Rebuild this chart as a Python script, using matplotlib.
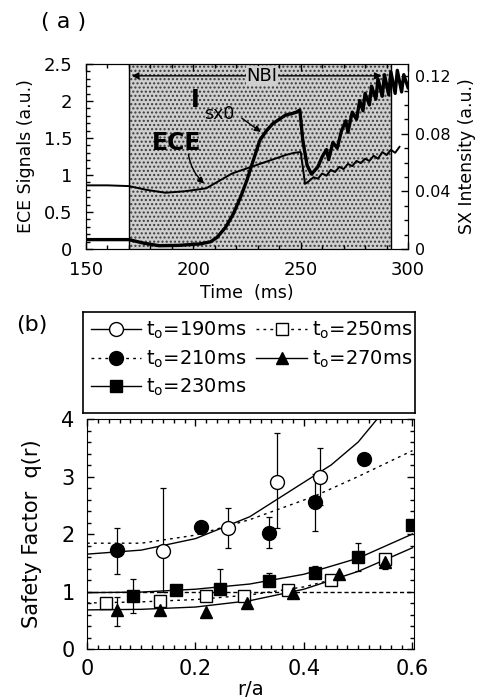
import matplotlib
matplotlib.use("Agg")
import matplotlib.pyplot as plt
from matplotlib.lines import Line2D
from matplotlib.ticker import MultipleLocator

plt.rcParams['font.family'] = ['DejaVu Sans']
plt.rcParams['mathtext.fontset'] = 'dejavusans'

# ---------------- Panel (a) data ----------------
ece_t = [150, 160, 170, 178, 187, 196, 206, 212, 218, 224, 231, 237, 243, 247, 250, 251, 252, 254,
         256, 258, 260, 262, 264, 266, 268, 270, 272, 274, 276, 278, 280, 282, 284, 286, 288, 290, 292, 294, 296]
ece_v = [0.86, 0.86, 0.85, 0.80, 0.76, 0.78, 0.82, 0.92, 1.02, 1.08, 1.15, 1.21, 1.27, 1.30, 1.31, 1.10, 0.88, 0.92,
         0.97, 0.95, 1.02, 0.99, 1.07, 1.04, 1.11, 1.08, 1.15, 1.12, 1.19, 1.16, 1.22, 1.19, 1.26, 1.22, 1.31, 1.27, 1.34, 1.30, 1.38]

sx_t = [150, 160, 170, 177, 184, 193, 203, 208, 211, 215, 218.5, 222, 225, 228, 231, 234, 237, 240, 243, 246, 248, 249.6,
        251, 253, 255, 258, 260, 262, 263, 265, 267, 269, 271, 272, 274, 276, 277.5, 279, 280, 282, 283, 285, 286, 288,
        289, 291, 292, 294, 295, 297, 298, 300]
sx_v = [0.0065, 0.0065, 0.0065, 0.004, 0.0023, 0.0025, 0.0035, 0.005, 0.008, 0.015, 0.024, 0.036, 0.048, 0.062, 0.0755,
        0.082, 0.087, 0.090, 0.093, 0.094, 0.095, 0.0965, 0.075, 0.058, 0.052, 0.057, 0.064, 0.069, 0.062, 0.074, 0.070,
        0.082, 0.089, 0.081, 0.095, 0.090, 0.103, 0.096, 0.108, 0.100, 0.113, 0.104, 0.118, 0.106, 0.121, 0.107, 0.123,
        0.108, 0.124, 0.109, 0.121, 0.112]

nbi_start, nbi_end = 170, 292

# ---------------- Panel (b) data ----------------
r190 = [0.14, 0.26, 0.35, 0.43]
q190 = [1.70, 2.10, 2.90, 3.00]
lo190 = [1.00, 1.75, 2.10, 2.50]
hi190 = [2.80, 2.45, 3.75, 3.50]

r210 = [0.055, 0.21, 0.335, 0.42, 0.51]
q210 = [1.72, 2.12, 2.02, 2.55, 3.30]
lo210 = [1.30, 2.12, 1.75, 2.05, 3.30]
hi210 = [2.10, 2.12, 2.30, 3.05, 3.30]

r230 = [0.085, 0.165, 0.245, 0.335, 0.42, 0.50, 0.60]
q230 = [0.93, 1.02, 1.05, 1.18, 1.33, 1.60, 2.15]
lo230 = [0.62, 1.02, 1.05, 1.18, 1.33, 1.35, 2.15]
hi230 = [1.22, 1.02, 1.40, 1.32, 1.45, 1.85, 2.25]

r250 = [0.035, 0.135, 0.22, 0.29, 0.37, 0.45, 0.55]
q250 = [0.80, 0.83, 0.92, 0.92, 1.02, 1.20, 1.57]

r270 = [0.055, 0.135, 0.22, 0.295, 0.38, 0.465, 0.55]
q270 = [0.68, 0.68, 0.65, 0.80, 0.97, 1.30, 1.52]
lo270 = [0.40, 0.68, 0.65, 0.80, 0.97, 1.30, 1.40]
hi270 = [0.90, 0.68, 0.65, 0.95, 0.97, 1.30, 1.52]

fit190_r = [0, 0.1, 0.2, 0.3, 0.4, 0.45, 0.5, 0.535]
fit190_q = [1.65, 1.72, 1.92, 2.30, 2.90, 3.20, 3.60, 4.00]
fit210_r = [0, 0.1, 0.2, 0.3, 0.35, 0.42, 0.5, 0.6]
fit210_q = [1.84, 1.84, 1.98, 2.25, 2.42, 2.66, 3.00, 3.45]
fit230_r = [0, 0.1, 0.2, 0.3, 0.4, 0.5, 0.6]
fit230_q = [0.98, 0.99, 1.04, 1.13, 1.30, 1.58, 2.00]
fit250_r = [0, 0.1, 0.2, 0.3, 0.4, 0.45]
fit250_q = [0.80, 0.82, 0.86, 0.94, 1.08, 1.20]
fit270_r = [0, 0.1, 0.2, 0.3, 0.4, 0.5, 0.6]
fit270_q = [0.68, 0.69, 0.73, 0.84, 1.04, 1.35, 1.76]
q1_r = [0, 0.6]
q1_q = [1.0, 1.0]

legend_labels = ['t$_\\mathregular{o}$=190ms', 't$_\\mathregular{o}$=210ms', 't$_\\mathregular{o}$=230ms',
                 't$_\\mathregular{o}$=250ms', 't$_\\mathregular{o}$=270ms']

fig = plt.figure(figsize=(4.86, 6.98), dpi=100)

# ================= Panel (a) =================
axa = fig.add_axes([0.177, 0.6433, 0.6626, 0.265])
axa.set_xlim(150, 300)
axa.set_ylim(0, 2.5)
axa.axvspan(nbi_start, nbi_end, facecolor='#cfcfcf', hatch='....', edgecolor='#3a3a3a', linewidth=0, zorder=0)
axa.axvline(nbi_start, color='k', lw=1.0, zorder=1)
axa.axvline(nbi_end, color='k', lw=1.0, zorder=1)
axa.plot(ece_t, ece_v, color='k', lw=1.4, zorder=3)

axr = axa.twinx()
axr.set_ylim(0, 0.1284)
axr.plot(sx_t, sx_v, color='k', lw=2.4, zorder=3)

axa.tick_params(direction='in', which='both', top=True, labelsize=13, length=5, width=1)
axa.tick_params(axis='x', pad=9)
axa.tick_params(axis='y', pad=10)
axa.tick_params(which='minor', length=3)
axa.xaxis.set_major_locator(MultipleLocator(50))
axa.xaxis.set_minor_locator(MultipleLocator(10))
axa.set_yticks([0, 0.5, 1, 1.5, 2, 2.5])
axa.set_yticklabels(['0', '0.5', '1', '1.5', '2', '2.5'])
axa.yaxis.set_minor_locator(MultipleLocator(0.1))
axr.set_yticks([0, 0.04, 0.08, 0.12])
axr.set_yticklabels(['0', '0.04', '0.08', '0.12'])
axr.yaxis.set_minor_locator(MultipleLocator(0.01))
axr.tick_params(direction='in', which='both', labelsize=11.5, length=5, width=1, pad=5)
axr.tick_params(which='minor', length=3)

axa.set_xlabel('Time  (ms)', fontsize=12.5, labelpad=3)
axa.set_ylabel('ECE Signals (a.u.)', fontsize=12.5, labelpad=6)
axr.set_ylabel('SX Intensity (a.u.)', fontsize=12.5, labelpad=5)

# annotations
axa.annotate('', xy=(nbi_start, 2.34), xytext=(nbi_end - 3, 2.34),
             arrowprops=dict(arrowstyle='<|-|>', color='k', lw=1.0, mutation_scale=10), zorder=4)
axa.text(232, 2.34, 'NBI', fontsize=13, ha='center', va='center',
         bbox=dict(facecolor='#cfcfcf', edgecolor='none', pad=0.5), zorder=5)
axa.text(192, 1.43, 'ECE', fontsize=17, fontweight='bold', ha='center', va='center', zorder=5)
axa.annotate('', xy=(206, 0.86), xytext=(197.5, 1.32),
             arrowprops=dict(arrowstyle='-|>', color='k', lw=1.0, connectionstyle='arc3,rad=0.2',
                             mutation_scale=9), zorder=5)
axa.text(201, 2.02, 'I', fontsize=17, fontweight='bold', ha='center', va='center', zorder=5)
axa.text(212, 1.82, 'sx0', fontsize=12.5, ha='center', va='center', zorder=5)
axa.annotate('', xy=(232.5, 1.56), xytext=(221.5, 1.79),
             arrowprops=dict(arrowstyle='-|>', color='k', lw=1.0, mutation_scale=9), zorder=5)

fig.text(0.084, 0.968, '( a )', fontsize=16, ha='left', va='center')
fig.text(0.033, 0.534, '(b)', fontsize=16, ha='left', va='center')

# ================= Panel (b) =================
axb = fig.add_axes([0.179, 0.0702, 0.673, 0.3295])
axb.set_xlim(0, 0.603)
axb.set_ylim(0, 4)

axb.plot(fit190_r, fit190_q, color='k', lw=1.0, ls='-')
axb.plot(fit210_r, fit210_q, color='k', lw=1.0, ls=(0, (2, 3)))
axb.plot(fit230_r, fit230_q, color='k', lw=1.0, ls='-')
axb.plot(fit250_r, fit250_q, color='k', lw=1.0, ls=(0, (2, 3)))
axb.plot(fit270_r, fit270_q, color='k', lw=1.0, ls='-')
axb.plot(q1_r, q1_q, color='k', lw=1.0, ls=(0, (3, 2)))

def eb(r, q, lo, hi, **kw):
    yerr = [[qq - l for qq, l in zip(q, lo)], [h - qq for qq, h in zip(q, hi)]]
    axb.errorbar(r, q, yerr=yerr, fmt='none', ecolor='k', elinewidth=0.9, capsize=2.5, capthick=0.9, zorder=3)
    axb.plot(r, q, ls='none', **kw, zorder=4)

eb(r190, q190, lo190, hi190, marker='o', ms=10, mfc='white', mec='k', mew=1.0)
eb(r210, q210, lo210, hi210, marker='o', ms=10, mfc='k', mec='k')
eb(r230, q230, lo230, hi230, marker='s', ms=9, mfc='k', mec='k')
axb.plot(r250, q250, ls='none', marker='s', ms=9, mfc='white', mec='k', mew=1.0, zorder=4)
eb(r270, q270, lo270, hi270, marker='^', ms=9, mfc='k', mec='k')

axb.tick_params(direction='in', which='both', top=True, right=True, labelsize=15, length=5, width=1)
axb.tick_params(axis='x', pad=7)
axb.tick_params(axis='y', pad=9)
axb.tick_params(which='minor', length=3)
axb.set_xticks([0, 0.2, 0.4, 0.6])
axb.set_xticklabels(['0', '0.2', '0.4', '0.6'])
axb.xaxis.set_minor_locator(MultipleLocator(0.02))
axb.yaxis.set_major_locator(MultipleLocator(1))
axb.yaxis.set_minor_locator(MultipleLocator(0.2))
axb.set_xlabel('r/a', fontsize=14, labelpad=1)
axb.set_ylabel('Safety Factor  q(r)', fontsize=15, labelpad=14)

# legend box
axl = fig.add_axes([0.1708, 0.408, 0.683, 0.145])
axl.set_xticks([])
axl.set_yticks([])
for s in axl.spines.values():
    s.set_linewidth(1.2)
handles = [
    Line2D([], [], color='k', lw=1.0, ls='-', marker='o', ms=10, mfc='white', mec='k'),
    Line2D([], [], color='k', lw=1.0, ls=(0, (2, 3)), marker='o', ms=10, mfc='k', mec='k'),
    Line2D([], [], color='k', lw=1.0, ls='-', marker='s', ms=9, mfc='k', mec='k'),
    Line2D([], [], color='k', lw=1.0, ls=(0, (2, 3)), marker='s', ms=9, mfc='white', mec='k'),
    Line2D([], [], color='k', lw=1.0, ls='-', marker='^', ms=9, mfc='k', mec='k'),
]
axl.legend(handles, legend_labels, loc='upper left', ncol=2, frameon=False, fontsize=14,
           handlelength=2.6, handletextpad=0.25, columnspacing=0.5, labelspacing=0.38,
           borderaxespad=0.15, borderpad=0.25)

fig.savefig('out.png', dpi=100)
